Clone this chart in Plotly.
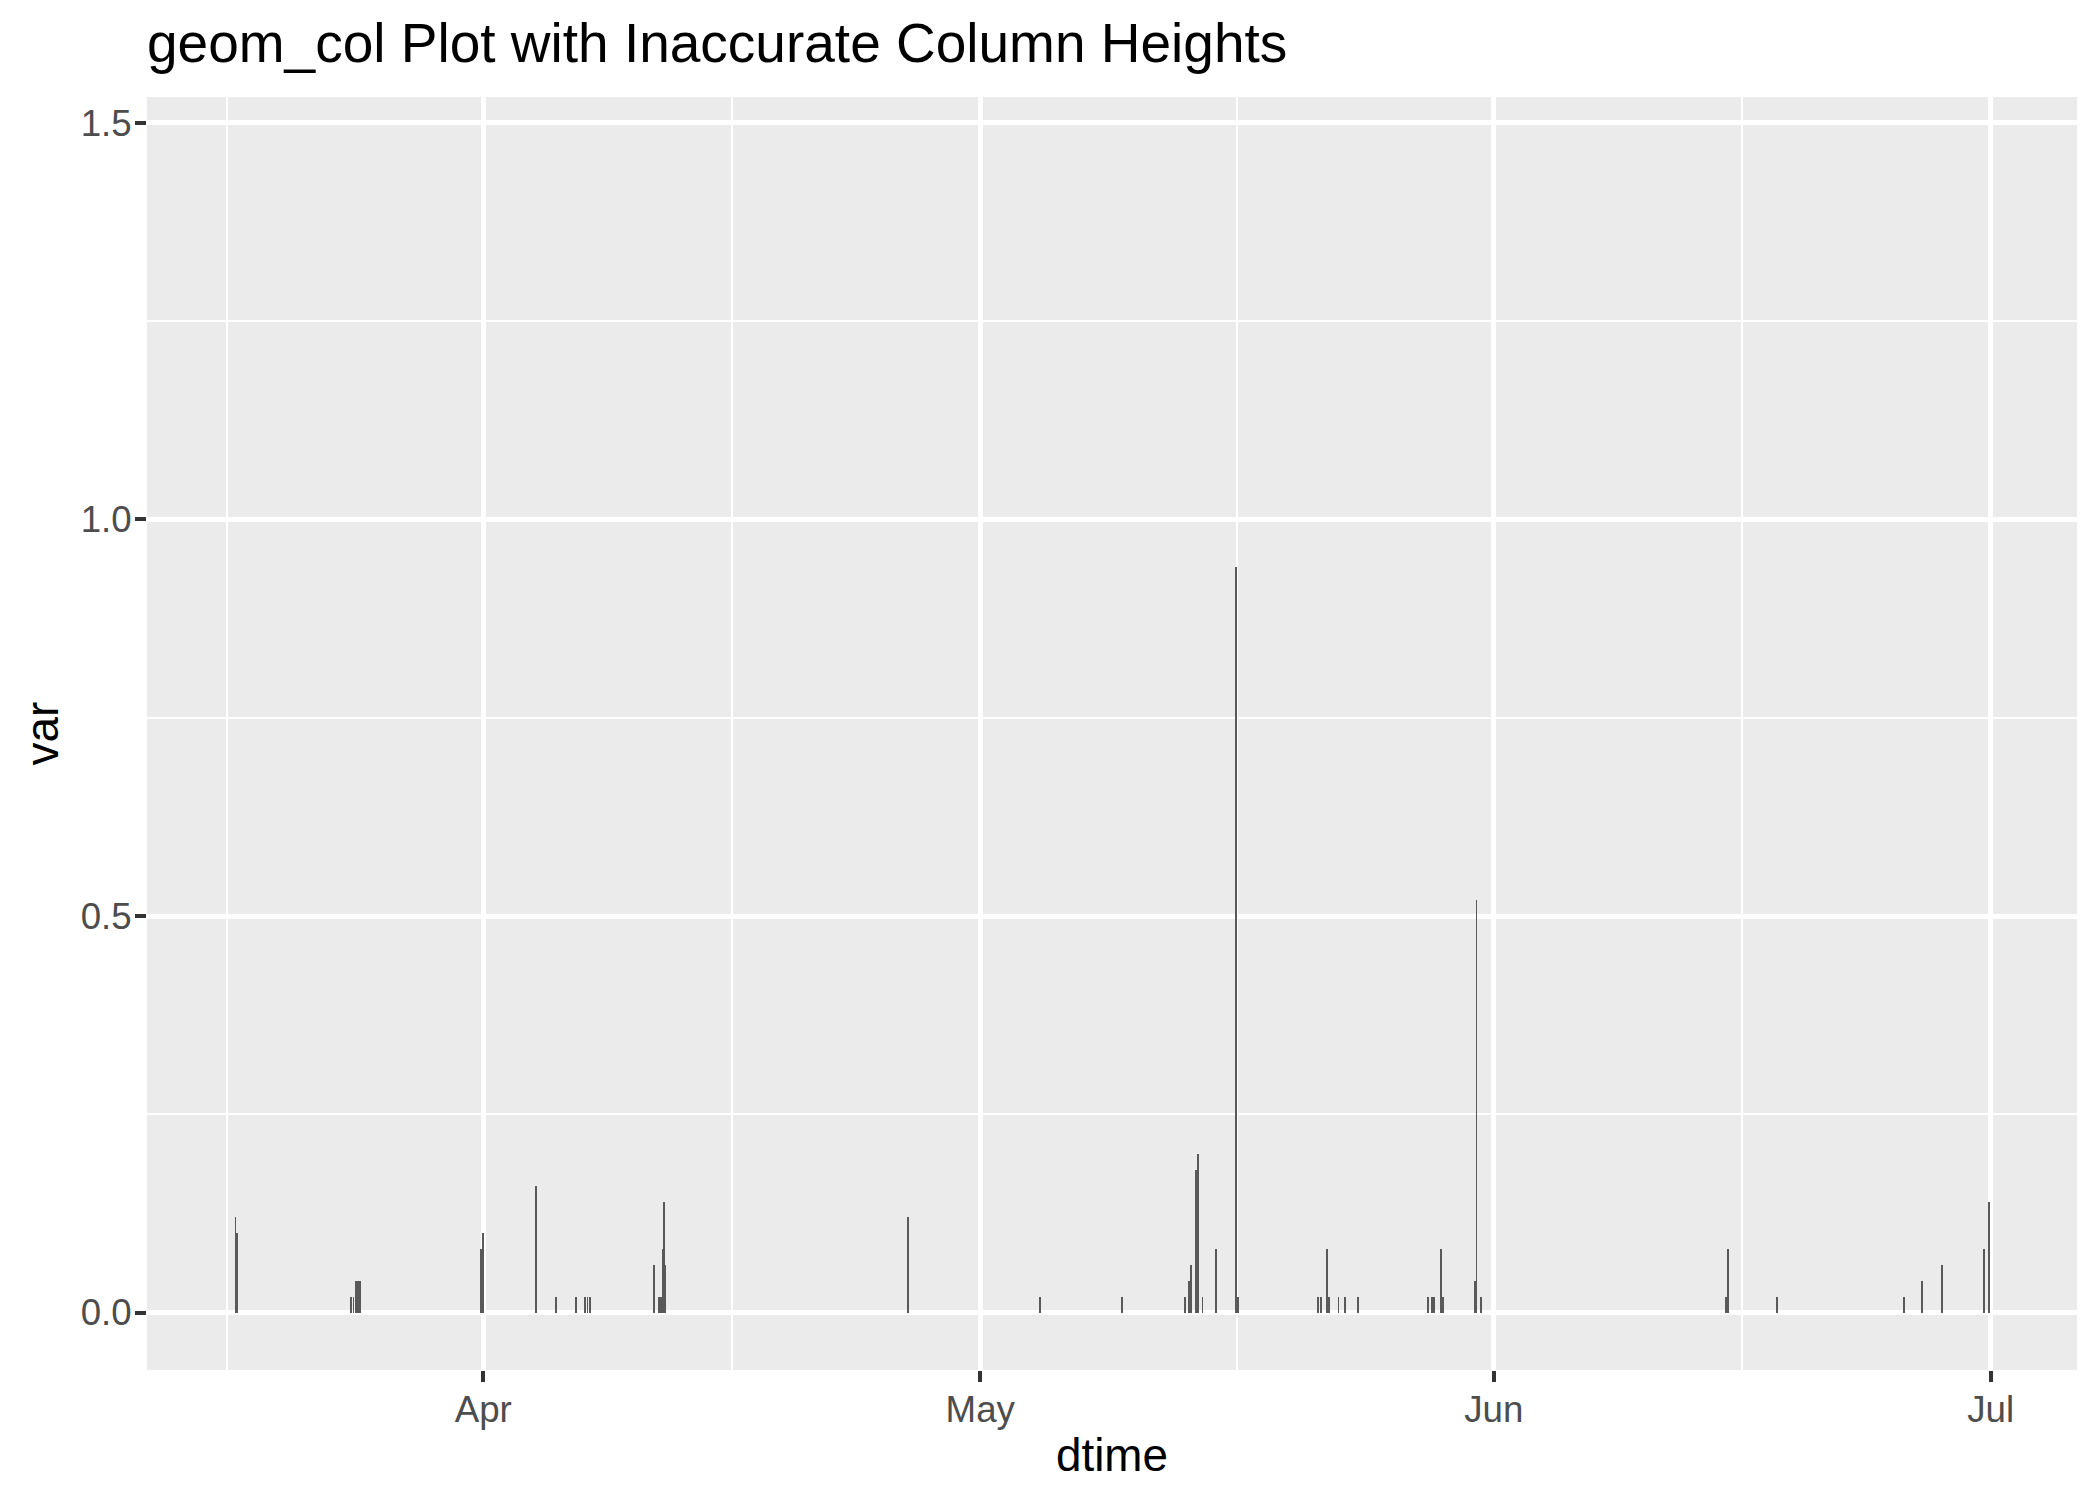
import plotly.graph_objects as go

# ---- data ----
dtime = [
    "2023-03-17 01:00", "2023-03-17 02:00", "2023-03-17 03:00",
    "2023-03-24 01:00", "2023-03-24 04:00", "2023-03-24 08:00", "2023-03-24 11:00",
    "2023-03-24 13:00", "2023-03-24 14:00",
    "2023-03-31 21:00", "2023-03-31 23:00", "2023-04-01 00:00",
    "2023-04-04 05:00", "2023-04-05 10:00", "2023-04-06 14:00",
    "2023-04-07 04:00", "2023-04-07 07:00", "2023-04-07 10:00",
    "2023-04-11 07:00", "2023-04-11 14:00", "2023-04-11 15:00", "2023-04-11 16:00",
    "2023-04-11 17:00", "2023-04-11 21:00", "2023-04-11 22:00", "2023-04-11 23:00",
    "2023-04-26 15:00", "2023-05-04 15:00", "2023-05-09 13:00",
    "2023-05-13 09:00", "2023-05-13 14:00", "2023-05-13 18:00",
    "2023-05-14 01:00", "2023-05-14 03:00", "2023-05-14 04:00", "2023-05-14 10:00",
    "2023-05-15 05:00", "2023-05-16 11:00", "2023-05-16 13:00",
    "2023-05-21 10:00", "2023-05-21 14:00", "2023-05-21 22:00",
    "2023-05-22 01:00", "2023-05-22 02:00", "2023-05-22 15:00",
    "2023-05-23 00:00", "2023-05-23 19:00",
    "2023-05-28 00:00", "2023-05-28 01:00", "2023-05-28 07:00", "2023-05-28 10:00",
    "2023-05-28 19:00", "2023-05-28 20:00", "2023-05-28 23:00",
    "2023-05-30 21:00", "2023-05-30 23:00", "2023-05-31 05:00",
    "2023-06-15 01:00", "2023-06-15 03:00", "2023-06-15 04:00",
    "2023-06-18 02:00", "2023-06-25 19:00", "2023-06-26 20:00",
    "2023-06-28 01:00", "2023-06-30 14:00", "2023-06-30 21:00",
]
var_values = [
    0.12, 0.08, 0.10,
    0.02, 0.02, 0.04, 0.04,
    0.02, 0.04,
    0.08, 0.10, 0.02,
    0.16, 0.02, 0.02,
    0.02, 0.02, 0.02,
    0.06, 0.02, 0.02, 0.02,
    0.02, 0.08, 0.14, 0.06,
    0.12, 0.02, 0.02,
    0.02, 0.04, 0.06,
    0.18, 0.20, 0.12, 0.02,
    0.08, 0.94, 0.02,
    0.02, 0.02, 0.08,
    0.02, 0.02, 0.02,
    0.02, 0.02,
    0.02, 0.02, 0.02, 0.02,
    0.06, 0.08, 0.02,
    0.04, 0.52, 0.02,
    0.02, 0.08, 0.04,
    0.02, 0.02, 0.04,
    0.06, 0.08, 0.14,
]

x_major_ticks = ["2023-04-01", "2023-05-01", "2023-06-01", "2023-07-01"]
x_major_labels = ["Apr", "May", "Jun", "Jul"]
x_minor_ticks = ["2023-03-16 12:00", "2023-04-16 00:00", "2023-05-16 12:00", "2023-06-16 00:00"]
x_range = ["2023-03-11 16:48", "2023-07-06 05:02"]

y_major_ticks = [0.0, 0.5, 1.0, 1.5]
y_major_labels = ["0.0", "0.5", "1.0", "1.5"]
y_minor_ticks = [0.25, 0.75, 1.25]
y_range = [-0.0724, 1.5327]

title_text = "geom_col Plot with Inaccurate Column Heights"
x_title = "dtime"
y_title = "var"

FONT = "Liberation Sans, Arial, sans-serif"
BAR_WIDTH_MS = 1.3 * 3600 * 1000

# the page body adds an 8px margin around the figure, so the figure is
# sized 16px smaller than the window and margins are offset accordingly
FIG_W, FIG_H = 2084, 1483

fig = go.Figure()
fig.add_trace(go.Bar(
    x=dtime,
    y=var_values,
    width=BAR_WIDTH_MS,
    marker=dict(color="#595959", line=dict(width=0)),
    hoverinfo="x+y",
))

fig.update_layout(
    width=FIG_W,
    height=FIG_H,
    margin=dict(l=139, r=15, t=89, b=121, pad=0),
    plot_bgcolor="#EBEBEB",
    paper_bgcolor="white",
    showlegend=False,
    bargap=0,
    font=dict(family=FONT),
    title=dict(
        text=title_text,
        x=0, xref="paper", xanchor="left",
        y=1 - 35 / FIG_H, yref="container", yanchor="middle",
        font=dict(size=55, color="black", family=FONT),
    ),
    annotations=[
        dict(text=x_title, x=0.5, xref="paper", xanchor="center",
             y=-0.0668, yref="paper", yanchor="middle", showarrow=False,
             font=dict(size=45.8, color="black", family=FONT)),
        dict(text=y_title, x=-0.0539, xref="paper", xanchor="center",
             y=0.5, yref="paper", yanchor="middle", showarrow=False, textangle=-90,
             font=dict(size=45.8, color="black", family=FONT)),
    ],
)

fig.update_xaxes(
    type="date",
    range=x_range,
    automargin=False,
    tickmode="array",
    tickvals=x_major_ticks,
    ticktext=x_major_labels,
    showgrid=True, gridcolor="white", gridwidth=4.7,
    ticks="outside", ticklen=11, tickwidth=4, tickcolor="#333333",
    tickfont=dict(size=36.7, color="#4D4D4D", family=FONT),
    ticklabelstandoff=-4,
    minor=dict(tickmode="array", tickvals=x_minor_ticks, showgrid=True,
               gridcolor="white", gridwidth=2.3, ticks=""),
    showline=False, zeroline=False,
)

fig.update_yaxes(
    range=y_range,
    automargin=False,
    tickmode="array",
    tickvals=y_major_ticks,
    ticktext=y_major_labels,
    showgrid=True, gridcolor="white", gridwidth=4.7,
    ticks="outside", ticklen=11, tickwidth=4, tickcolor="#333333",
    tickfont=dict(size=36.7, color="#4D4D4D", family=FONT),
    ticklabelstandoff=-4,
    minor=dict(tickmode="array", tickvals=y_minor_ticks, showgrid=True,
               gridcolor="white", gridwidth=2.3, ticks=""),
    showline=False, zeroline=False,
)

fig.write_html("out.html")
